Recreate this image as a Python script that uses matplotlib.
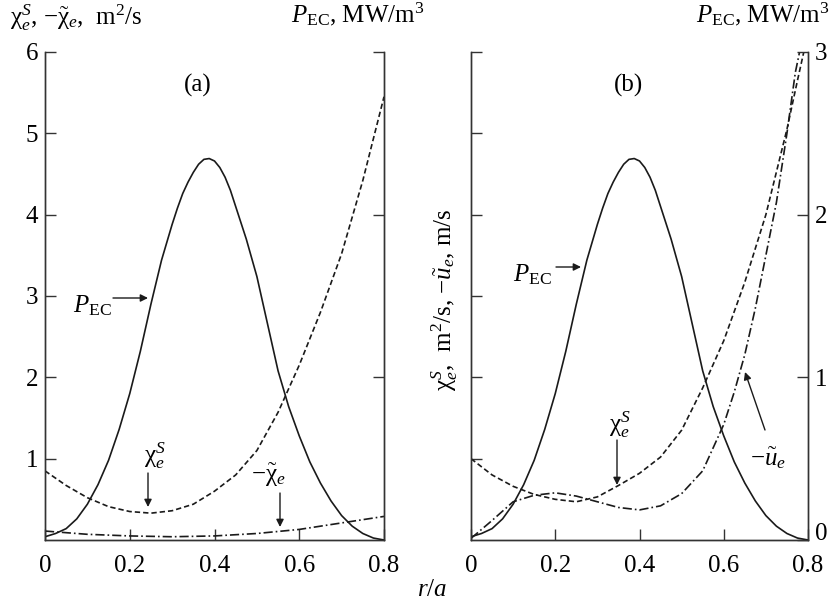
import matplotlib
matplotlib.use("Agg")
import matplotlib.pyplot as plt

plt.rcParams['font.family'] = ['Liberation Serif', 'DejaVu Serif']
plt.rcParams['mathtext.fontset'] = 'custom'
plt.rcParams['mathtext.rm'] = 'Liberation Serif'
plt.rcParams['mathtext.it'] = 'Liberation Serif:italic'
plt.rcParams['mathtext.bf'] = 'Liberation Serif:bold'

# ECR heating power density profile, MW/m^3 (same in both panels)
r_p = [0.0, 0.025, 0.05, 0.075, 0.1, 0.125, 0.15, 0.175, 0.2, 0.225, 0.25, 0.275,
       0.3, 0.3125, 0.325, 0.3375, 0.35, 0.3625, 0.375, 0.3875, 0.4, 0.4125,
       0.425, 0.4375, 0.45, 0.475, 0.5, 0.525, 0.55, 0.575,
       0.6, 0.625, 0.65, 0.675, 0.7, 0.725, 0.75, 0.775, 0.8]
p_ec = [0.02, 0.04, 0.07, 0.13, 0.22, 0.34, 0.49, 0.68, 0.90, 1.16, 1.45, 1.72,
        1.94, 2.04, 2.13, 2.20, 2.26, 2.31, 2.34, 2.345, 2.33, 2.29,
        2.23, 2.15, 2.05, 1.85, 1.62, 1.33, 1.04, 0.82,
        0.64, 0.48, 0.35, 0.24, 0.15, 0.085, 0.04, 0.012, 0.0]

# panel (a): diffusivities, m^2/s
r_a = [0.0, 0.05, 0.1, 0.15, 0.2, 0.25, 0.3, 0.35, 0.4, 0.45, 0.5, 0.55,
       0.6, 0.65, 0.7, 0.75, 0.8]
chi_s_a = [0.85, 0.67, 0.52, 0.41, 0.35, 0.33, 0.36, 0.44, 0.6, 0.8, 1.1, 1.57,
           2.15, 2.8, 3.52, 4.42, 5.45]
r_chit = [0.0, 0.1, 0.2, 0.3, 0.4, 0.5, 0.6, 0.7, 0.8]
chi_t_a = [0.11, 0.07, 0.05, 0.04, 0.05, 0.08, 0.13, 0.21, 0.29]

# panel (b): diffusivity and pinch velocity
r_b = [0.0, 0.05, 0.1, 0.15, 0.2, 0.25, 0.3, 0.35, 0.4, 0.45, 0.5, 0.55,
       0.6, 0.65, 0.7, 0.75, 0.775, 0.79, 0.8]
chi_s_b = [1.0, 0.8, 0.66, 0.56, 0.5, 0.47, 0.53, 0.67, 0.82, 1.02, 1.35, 1.87,
           2.45, 3.17, 4.0, 5.05, 5.65, 6.0, 6.0]
r_u = [0.0, 0.05, 0.1, 0.15, 0.2, 0.25, 0.3, 0.35, 0.4, 0.45, 0.5, 0.55, 0.6,
       0.625, 0.65, 0.675, 0.7, 0.725, 0.75, 0.77, 0.78, 0.8]
u_b = [0.02, 0.24, 0.47, 0.55, 0.58, 0.54, 0.47, 0.4, 0.37, 0.42, 0.57, 0.85,
       1.42, 1.82, 2.28, 2.85, 3.5, 4.15, 5.0, 5.75, 6.0, 6.0]

x_ticks = [0, 0.2, 0.4, 0.6, 0.8]
x_labels = ['0', '0.2', '0.4', '0.6', '0.8']

W, H = 830, 603
FS = 18
LW = 1.2
DASH = (3.2, 1.8)
DASHDOT = (5.5, 1.8, 1.0, 1.8)

CHI = r'\mathrm{\chi}'

fig = plt.figure(figsize=(W / 100, H / 100), dpi=100)


def frac(x0, y0, x1, y1):
    return [x0 / W, 1 - y1 / H, (x1 - x0) / W, (y1 - y0) / H]


def style(ax, ax2):
    for a in (ax, ax2):
        a.set_xlim(0, 0.8)
        a.spines['top'].set_visible(False)
        for s in a.spines.values():
            s.set_linewidth(1.0)
            s.set_color('#333333')
        a.tick_params(direction='in', length=8, width=1.0, color='#333333',
                      labelsize=FS, pad=5)
        a.tick_params(axis='x', pad=11)
    ax.set_ylim(0, 6)
    ax2.set_ylim(0, 3)
    ax.set_xticks(x_ticks)
    ax.set_xticklabels(x_labels)
    ax.set_yticks([1, 2, 3, 4, 5, 6])
    ax2.set_yticks([1, 2, 3])


# ---- panel (a)
ax_a = fig.add_axes(frac(45, 52, 384, 540))
ax_a2 = ax_a.twinx()
style(ax_a, ax_a2)
ax_a.set_yticklabels(['1', '2', '3', '4', '5', '6'])
ax_a2.set_yticklabels([])

ax_a2.plot(r_p, p_ec, color='#1a1a1a', lw=LW)
ln, = ax_a.plot(r_a, chi_s_a, color='#1a1a1a', lw=LW)
ln.set_dashes(DASH)
ln, = ax_a.plot(r_chit, chi_t_a, color='#1a1a1a', lw=LW)
ln.set_dashes(DASHDOT)

# ---- panel (b)
ax_b = fig.add_axes(frac(471, 52, 808, 540))
ax_b2 = ax_b.twinx()
style(ax_b, ax_b2)
ax_b.set_yticklabels([])
ax_b2.set_yticks([0, 1, 2, 3])
ax_b2.set_yticklabels(['0', '1', '2', '3'])
# sit the bottom "0" on the axis line so it clears the 0.8 below
ax_b2.get_yticklabels()[0].set_verticalalignment('baseline')

ax_b2.plot(r_p, p_ec, color='#1a1a1a', lw=LW)
ln, = ax_b.plot(r_b, chi_s_b, color='#1a1a1a', lw=LW)
ln.set_dashes(DASH)
ln, = ax_b.plot(r_u, u_b, color='#1a1a1a', lw=LW)
ln.set_dashes(DASHDOT)


def ftext(x, y, s, **kw):
    kw.setdefault('fontsize', FS)
    fig.text(x / W, 1 - y / H, s, **kw)


def farrow(x0, y0, x1, y1):
    fig.add_artist(matplotlib.patches.FancyArrowPatch(
        (x0 / W, 1 - y0 / H), (x1 / W, 1 - y1 / H), transform=fig.transFigure,
        arrowstyle='-|>', mutation_scale=11, lw=1.0, color='#1a1a1a',
        shrinkA=0, shrinkB=0))


# axis titles
ftext(10, 25, r'$%s_e^S$, $-\tilde{%s}_e$,  m$^2$/s' % (CHI, CHI), va='baseline')
ftext(424, 22, r'$P_{\rm EC}$, MW/m$^3$', ha='right', va='baseline')
ftext(829, 22, r'$P_{\rm EC}$, MW/m$^3$', ha='right', va='baseline')
ftext(445, 300, r'$%s_e^S$,  m$^2$/s, $-\tilde{u}_e$, m/s' % CHI, rotation=90,
      ha='center', va='center')
ftext(432, 590, r'$r/a$', ha='center', va='center')

# panel tags
ftext(198, 85, '(a)', ha='center', va='center')
ftext(628, 85, '(b)', ha='center', va='center')

# curve labels with arrows
ftext(92, 306, r'$P_{\rm EC}$', ha='center', va='center')
farrow(113, 298, 148, 298)
ftext(155, 456, r'$%s_e^S$' % CHI, ha='center', va='center')
farrow(148, 473, 148, 507)
ftext(268, 475, r'$-\tilde{%s}_e$' % CHI, ha='center', va='center')
farrow(280, 493, 280, 527)

ftext(532, 275, r'$P_{\rm EC}$', ha='center', va='center')
farrow(556, 267, 581, 267)
ftext(620, 425, r'$%s_e^S$' % CHI, ha='center', va='center')
farrow(617, 440, 617, 485)
ftext(768, 458, r'$-\tilde{u}_e$', ha='center', va='center')
farrow(765, 430, 745, 372)

fig.savefig('out.png', dpi=100)
